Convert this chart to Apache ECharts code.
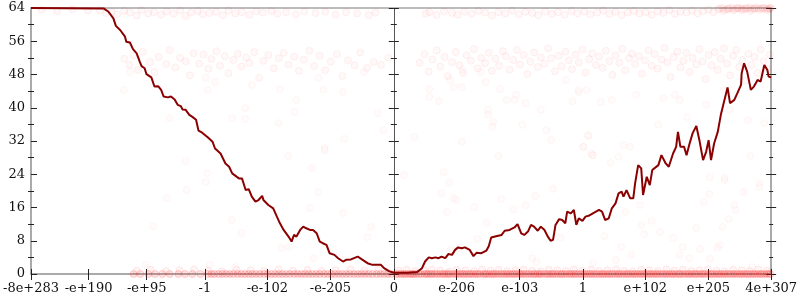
<!DOCTYPE html>
<html><head><meta charset="utf-8">
<script src="https://cdn.jsdelivr.net/npm/echarts@6/dist/echarts.min.js"></script>
<style>html,body{margin:0;padding:0;background:#fff}#c{width:800px;height:300px}</style>
</head><body><div id="c"></div>
<script>
// x positions are in signed "decades" from zero (float ordering scale)
const xTickValues = [-592.5,-498.6,-403.6,-308.6,-206.6,-103.6,0,102.6,205.6,308.6,410.6,513.6,616.2];
const xTickLabels = ['-8e+283','-e+190','-e+95','-1','-e-102','-e-205','0','e-206','e-103','1','e+102','e+205','4e+307'];
const yMajorTicks = [0,8,16,24,32,40,48,56,64];
const yMinorTicks = [4,12,20,28,36,44,52,60];

const lineData = [
[-592.5,64],[-474,63.9],[-466,63.1],[-458,61.5],[-454,59.7],[-447,58.7],[-439,57.1],[-437,55.9],[-431,55.7],[-426,54.1],[-420,53.1],[-415,51.1],[-412,50.0],[-407,49.5],[-404,48.1],[-396,47.3],[-391,45.1],[-388,44.7],[-385,45.2],[-380,44.3],[-376,42.7],[-369,42.5],[-364,42.7],[-358,42.0],[-353,40.7],[-348,40.4],[-345,39.6],[-340,39.5],[-334,38.3],[-329,37.8],[-323,37.1],[-319,34.5],[-313,34.0],[-304,32.9],[-296,31.8],[-292,30.2],[-283,29.0],[-275,26.6],[-269,25.8],[-264,24.2],[-253,23.0],[-248,23.0],[-242,20.2],[-237,20.4],[-232,18.6],[-226,17.4],[-221,17.8],[-215,18.8],[-213,17.8],[-210,17.8],[-205,16.6],[-197,15.8],[-191,13.8],[-186,12.2],[-180,10.6],[-172,9.0],[-167,7.8],[-163,9.4],[-159,9.0],[-153,10.6],[-148,11.4],[-143,11.0],[-137,10.6],[-132,10.6],[-126,9.8],[-121,7.8],[-116,7.4],[-110,7.0],[-105,5.0],[-97,4.6],[-91,3.8],[-83,3.0],[-78,3.4],[-70,3.5],[-59,4.2],[-51,3.4],[-43,2.6],[-35,2.2],[-21,2.2],[-16,1.4],[-8,0.7],[0,0.3],
[6,0.3],[22,0.3],[38,0.5],[46,1.4],[51,3.0],[57,4.0],[62,3.8],[68,4.0],[73,3.8],[78,4.2],[84,3.8],[89,4.8],[95,4.6],[100,5.8],[105,6.4],[111,6.2],[116,6.4],[124,5.8],[130,4.3],[135,5.1],[143,5.0],[151,5.6],[155,6.7],[159,8.8],[167,9.1],[176,9.4],[181,10.4],[189,10.6],[197,11.2],[202,12.0],[208,9.8],[213,9.4],[219,10.2],[224,11.8],[229,11.4],[235,10.4],[240,11.4],[246,10.6],[251,9.1],[256,8.0],[260,8.2],[264,11.8],[270,13.2],[275,13.0],[280,12.2],[283,15.0],[289,14.6],[294,15.4],[298,11.8],[302,13.4],[308,12.8],[313,13.8],[318,14.0],[335,15.4],[340,15.0],[345,13.0],[351,13.4],[356,15.8],[362,17.0],[367,19.4],[372,19.8],[375,18.6],[380,20.2],[386,18.2],[391,18.2],[394,21.8],[399,26.2],[404,25.4],[407,19.0],[413,23.4],[418,21.4],[422,25.0],[432,26.2],[437,28.6],[440,29.0],[444,26.6],[449,25.8],[456,29.0],[461,30.6],[464,34.2],[468,30.6],[474,30.6],[478,28.6],[483,31.4],[488,33.9],[494,35.6],[499,32.2],[505,27.4],[510,29.4],[514,32.2],[518,27.4],[523,31.4],[529,34.2],[534,38.3],[540,41.9],[545,44.9],[549,41.1],[556,41.9],[561,43.5],[567,45.5],[568,48.3],[572,50.7],[577,48.7],[583,44.3],[588,45.1],[594,46.7],[599,46.3],[605,50.3],[610,49.1],[612,47.5],[616.2,47.3]
];

const topBand = [
[-575,63.6],[-550,63.3],[-525,63.7],[-500,63.4],
[-480,63.4],[-470,62.8],[-461,63.1],[-452,62.5],[-440,63.3],[-431,62.9],[-420,62.2],[-412,63.5],[-401,62.7],[-392,63.0],[-380,62.4],[-371,63.2],[-360,62.6],[-349,63.4],[-340,62.1],[-331,62.9],[-320,63.3],[-312,62.5],[-301,62.8],[-290,63.1],[-279,62.3],[-270,63.4],[-259,62.7],[-248,63.0],[-236,62.4],[-225,63.2],[-214,62.9],[-200,63.3],[-190,62.6],[-176,63.0],[-160,62.5],[-146,63.2],[-128,62.8],[-112,63.1],[-95,62.4],[-78,63.0],[-60,62.7],[-41,62.3],[-30,62.9],
[52,62.6],[58,63.0],[70,62.3],[82,63.2],[95,62.8],[104,62.4],[115,63.1],[127,62.6],[138,63.3],[149,62.9],[160,62.2],[171,63.0],[182,62.7],[193,63.4],[204,62.5],[215,63.1],[226,62.8],[236,62.3],[247,63.2],[258,62.6],[268,63.0],[279,62.4],[290,63.3],[300,62.7],[311,63.1],[321,62.5],[332,62.9],[342,63.4],[352,62.6],[362,63.1],[372,62.3],[382,62.9],[392,63.3],[401,62.7],[411,63.0],[421,62.4],[431,63.2],[440,62.8],[450,63.5],[459,62.6],[468,63.1],[478,62.9],[487,63.4],[496,62.7],[505,63.2],[514,63.6],[522,63.0],[530,63.7],[538,63.3],[546,63.8],[554,63.4],[561,63.9],[568,63.5],[575,63.8],[582,63.3],[589,63.9],[596,63.6],[603,63.9],[609,63.5],[614,63.8],
[533,63.9],[541,63.6],[549,64],[557,63.7],[565,64],[571,63.6],[579,64],[585,63.7],[592,64],[599,63.8],[606,64],[612,63.7],[616,64],
[537,64],[545,63.8],[553,64],[561,64],[569,63.9],[575,64],[582,64],[588,63.9],[595,64],[602,64],[609,63.9],[615,64]
];

const midBand = [
[-440,51.8],[-432,50.3],[-425,52.6],[-418,49.1],[-410,53.5],[-398,51.0],[-391,48.6],[-384,52.2],[-372,50.5],[-366,53.9],[-357,49.7],[-349,52.0],[-340,51.2],[-333,47.8],[-327,53.1],[-318,50.6],[-311,52.8],[-303,49.4],[-298,51.7],[-290,53.6],[-284,50.1],[-276,52.4],[-270,48.3],[-262,51.5],[-255,53.0],[-249,49.9],[-241,52.1],[-236,50.8],[-228,53.4],[-220,47.2],[-213,51.3],[-205,52.7],[-196,49.5],[-188,51.9],[-180,53.2],[-172,50.4],[-163,52.3],[-155,48.9],[-147,51.6],[-138,53.7],[-130,50.0],[-121,52.5],[-112,49.0],[-103,51.1],[-93,52.9],[-84,47.6],[-75,51.4],[-64,50.2],[-55,53.3],[-44,49.6],[-33,51.0],[-21,50.3],[-9,52.1],
[42,50.8],[50,52.9],[57,48.7],[63,51.6],[70,53.8],[76,49.9],[83,52.2],[88,47.6],[95,51.0],[101,53.4],[107,50.2],[113,48.4],[119,52.6],[126,51.3],[131,54.1],[137,49.5],[143,52.0],[149,50.7],[155,53.2],[160,48.9],[166,51.8],[172,50.1],[178,53.6],[183,52.4],[189,49.2],[195,51.5],[201,53.9],[206,50.4],[212,52.7],[218,48.1],[223,51.1],[229,53.3],[235,49.8],[240,52.1],[246,50.6],[252,54.3],[257,51.9],[263,48.8],[269,52.5],[274,50.0],[280,53.5],[286,51.4],[291,49.3],[297,52.8],[302,50.9],[308,54.0],[313,48.5],[319,51.7],[324,53.1],[330,50.3],[335,52.3],[341,49.6],[346,53.7],[352,51.2],[357,47.9],[362,52.6],[368,50.8],[373,54.2],[378,49.0],[384,51.9],[389,53.0],[394,50.5],[400,52.4],[405,48.2],[410,51.4],[416,53.8],[421,50.1],[426,52.9],[431,49.4],[437,51.6],[442,54.4],[447,50.9],[452,47.4],[457,52.2],[463,53.5],[468,49.7],[473,51.3],[478,53.2],[483,48.6],[488,52.0],[494,50.4],[499,54.1],[504,51.1],[509,46.9],[514,52.7],[519,50.2],[524,53.4],[529,49.1],[534,51.8],[539,54.3],[544,50.6],[549,47.8],[554,52.5],[559,53.9],[564,49.8],[569,51.5],[574,46.5],[579,53.0],[584,50.3],[589,52.2],[594,48.4],[599,54.0],[604,51.2],[609,49.5],[614,52.8]
];

const scattered = [
[-441,44.3],[-366,37.5],[-431,48.6],[-307,47.2],[-292,46.2],[-232,45.5],[-186,44.5],[-159,41.9],[-243,39.9],[-264,37.5],[-243,37.3],[-162,39.0],[-188,36.3],[-115,44.3],[-83,43.8],[-49,48.6],[-26,38.7],[-17,34.6],[-81,32.5],[-113,30.3],[-304,44.3],[-123,47.2],
[-172,28.4],[-305,24.3],[-307,22.1],[-265,13.0],[-249,9.9],[-184,6.3],[-172,6.5],[-131,3.8],[-123,19.7],[-137,15.9],[-83,14.7],[-37,11.3],[-43,8.9],[-301,2.2],[-259,1.7],[-134,25.5],[-113,29.8],[-340,27.2],[-338,20.2],[-371,18.3],[-393,11.5],[-406,2.2],
[58,44.5],[58,42.6],[74,41.6],[92,46.7],[98,45.0],[111,45.0],[112,49.1],[142,48.6],[150,46.2],[154,39.5],[162,36.6],[161,35.4],[173,44.5],[184,41.9],[197,41.9],[200,43.1],[215,41.1],[210,35.9],[240,39.5],[249,34.6],[257,32.2],[281,46.7],[292,41.6],[302,43.8],[317,33.2],[310,30.6],[34,33.0],[111,31.8],[154,38.3],
[16,23.8],[81,24.5],[90,21.9],[77,19.5],[97,18.3],[102,17.8],[87,14.9],[131,16.1],[152,12.3],[171,28.4],[175,18.0],[195,15.6],[215,16.6],[231,18.8],[260,20.5],[272,8.7],[226,3.8],[233,2.9],[136,8.4],[107,6.3],[92,5.8],[325,28.6],[325,2.6],
[367,28.2],[354,26.7],[582,28.4],[597,21.9],[571,19.7],[556,16.6],[558,15.4],[540,22.6],[516,23.3],[515,19.2],[506,17.3],[494,11.1],[472,6.5],[467,4.6],[483,3.8],[500,6.0],[516,3.6],[528,6.3],[532,7.0],[537,11.3],[547,13.2],[456,8.7],[435,10.1],[421,12.8],[409,9.6],[404,11.8],[388,4.6],[371,6.5],[362,3.4],[344,9.1],[378,14.9],[402,16.6],[585,1.7],
[302,44.3],[315,44.3],[318,33.4],[309,30.6],[324,28.6],[338,41.4],[356,41.9],[375,31.0],[386,30.6],[396,43.1],[432,35.9],[440,42.3],[459,43.1],[467,41.9],[479,37.8],[510,40.7],[539,44.3],[549,39.5],[560,43.1],[578,37.0],[605,36.3],[597,20.9],[540,23.1],[322,29.1]
];

const bottomZero = [
[-425,0],[-414,0],[-401,0],[-390,0],[-378,0],[-366,0],[-352,0],[-341,0],[-329,0],[-316,0],[-304,0],[-293,0],[-280,0],[-268,0],[-255,0],[-243,0],[-231,0],[-219,0],[-206,0],[-194,0],[-182,0],[-170,0],[-157,0],[-145,0],[-133,0],[-121,0],[-108,0],[-96,0],[-84,0],[-72,0],[-59,0],[-47,0],[-35,0],[-22,0],[-10,0],
[-298,0],[-286,0],[-274,0],[-262,0],[-249,0],[-237,0],[-225,0],[-212,0],[-200,0],[-188,0],[-176,0],[-163,0],[-151,0],[-139,0],[-127,0],[-114,0],[-102,0],[-90,0],[-78,0],[-65,0],[-53,0],[-41,0],[-28,0],[-16,0],[-4,0],
[4,0],[12,0],[19,0],[27,0],[33,0],[41,0],[50,0],[56,0],[63,0],[71,0],[79,0],[86,0],[92,0],[101,0],[108,0],[115,0],[123,0],[130,0],[137,0],[146,0],[152,0],[160,0],[167,0],[175,0],[183,0],[190,0],[197,0],[205,0],[212,0],[220,0],[228,0],[235,0],[241,0],[250,0],[257,0],[264,0],[272,0],[279,0],[287,0],[294,0],[301,0],[309,0],[316,0],[323,0],[331,0],[339,0],[346,0],[353,0],[361,0],[368,0],[376,0],[383,0],[391,0],[398,0],[405,0],[413,0],[420,0],[428,0],[435,0],[443,0],[450,0],[457,0],[465,0],[472,0],[480,0],[487,0],[494,0],[502,0],[509,0],[517,0],[524,0],[531,0],[539,0],[546,0],[554,0],[561,0],[568,0],[576,0],[583,0],[590,0],[598,0],[605,0],[612,0],
[8,0],[16,0],[23,0],[30,0],[37,0],[45,0],[53,0],[60,0],[67,0],[75,0],[82,0],[89,0],[97,0],[104,0],[112,0],[119,0],[126,0],[134,0],[141,0],[149,0],[156,0],[163,0],[171,0],[179,0],[186,0],[194,0],[201,0],[208,0],[216,0],[224,0],[231,0],[238,0],[246,0],[253,0],[260,0],[268,0],[275,0],[283,0],[290,0],[297,0],[305,0],[312,0],[320,0],[327,0],[335,0],[342,0],[350,0],[357,0],[365,0],[372,0],[380,0],[387,0],[394,0],[402,0],[409,0],[417,0],[424,0],[431,0],[439,0],[446,0],[454,0],[461,0],[468,0],[476,0],[483,0],[491,0],[498,0],[505,0],[513,0],[520,0],[528,0],[535,0],[542,0],[550,0],[557,0],[565,0],[572,0],[579,0],[587,0],[594,0],[601,0],[609,0],[615,0]
];
const bottomLow = [
[-420,0.8],[-397,1.0],[-372,0.7],[-350,0.9],[-326,1.1],[-303,0.8],[-281,0.6],[-257,1.0],[-234,0.9],[-212,0.7],[-188,1.1],[-165,0.8],[-141,1.0],[-118,0.7],[-95,0.9],[-71,1.1],[-48,0.8],[-25,1.0],
[8,0.8],[21,1.0],[35,0.7],[49,0.9],[62,1.1],[76,0.8],[90,0.6],[103,1.0],[117,0.9],[131,0.7],[144,1.1],[158,0.8],[171,1.0],[185,0.7],[199,0.9],[212,1.1],[226,0.8],[240,0.6],[253,1.0],[267,0.9],[281,0.7],[294,1.1],[308,0.8],[322,1.0],[335,0.7],[349,0.9],[363,1.1],[376,0.8],[390,0.6],[404,1.0],[417,0.9],[431,0.7],[445,1.1],[458,0.8],[472,1.0],[486,0.7],[499,0.9],[513,1.1],[527,0.8],[540,0.6],[554,1.0],[568,0.9],[581,0.7],[595,1.1],[609,0.8]
];

const FONT = 'DejaVu Serif';
const X_MIN = xTickValues[0], X_MAX = xTickValues[xTickValues.length - 1];
const labelOf = v => { const i = xTickValues.indexOf(v); return i >= 0 ? xTickLabels[i] : ''; };

function xAx(extra) {
  return Object.assign({
    type: 'value', min: X_MIN, max: X_MAX, position: 'bottom',
    splitLine: { show: false }, axisLabel: { show: false }, axisTick: { show: false },
    axisLine: { show: false }
  }, extra);
}
function yAx(extra) {
  return Object.assign({
    type: 'value', min: 0, max: 64, interval: 8, position: 'left',
    splitLine: { show: false }, axisLabel: { show: false }, axisTick: { show: false },
    axisLine: { show: false, onZero: false }
  }, extra);
}
const tickStyle = { color: '#222', width: 1 };

const chart = echarts.init(document.getElementById('c'), null, { renderer: 'canvas' });
chart.setOption({
  animation: false,
  grid: { left: 27, right: 26, top: 8, bottom: 26, containLabel: false },
  xAxis: [
    xAx({
      axisLine: { show: true, onZero: false, lineStyle: { color: '#aaa', width: 2 } },
      axisTick: { show: true, length: 6, customValues: xTickValues, lineStyle: tickStyle },
      axisLabel: { show: true, customValues: xTickValues, formatter: labelOf, margin: 8,
        fontFamily: FONT, fontSize: 13, color: '#111' }
    }),
    xAx({ axisTick: { show: true, inside: true, length: 5, customValues: xTickValues, lineStyle: tickStyle } }),
    xAx({ position: 'top', axisLine: { show: true, onZero: false, lineStyle: { color: '#bbb', width: 2 } } })
  ],
  yAxis: [
    yAx({
      axisLine: { show: true, onZero: false, lineStyle: { color: '#aaa', width: 2 } },
      axisTick: { show: true, inside: true, length: 6, lineStyle: tickStyle },
      axisLabel: { show: true, margin: 6, fontFamily: FONT, fontSize: 13, color: '#111' }
    }),
    yAx({ axisTick: { show: true, inside: false, length: 3, customValues: yMinorTicks, lineStyle: tickStyle } }),
    yAx({ axisTick: { show: true, inside: true, length: 3, customValues: yMinorTicks, lineStyle: tickStyle } }),
    yAx({
      axisLine: { show: true, onZero: true, onZeroAxisIndex: 0, lineStyle: { color: '#555', width: 1 } },
      axisTick: { show: true, inside: false, length: 5, lineStyle: tickStyle }
    }),
    yAx({ axisLine: { show: false, onZero: true, onZeroAxisIndex: 0 }, axisTick: { show: true, inside: true, length: 5, lineStyle: tickStyle } }),
    yAx({ axisLine: { show: false, onZero: true, onZeroAxisIndex: 0 }, axisTick: { show: true, inside: false, length: 3, customValues: yMinorTicks, lineStyle: tickStyle } }),
    yAx({ axisLine: { show: false, onZero: true, onZeroAxisIndex: 0 }, axisTick: { show: true, inside: true, length: 3, customValues: yMinorTicks, lineStyle: tickStyle } }),
    yAx({
      position: 'right',
      axisLine: { show: true, onZero: false, lineStyle: { color: '#aaa', width: 2 } },
      axisTick: { show: true, inside: false, length: 5, lineStyle: tickStyle }
    }),
    yAx({ position: 'right', axisTick: { show: true, inside: true, length: 5, lineStyle: tickStyle } }),
    yAx({ position: 'right', axisTick: { show: true, inside: false, length: 2, customValues: yMinorTicks, lineStyle: tickStyle } }),
    yAx({ position: 'right', axisTick: { show: true, inside: true, length: 2, customValues: yMinorTicks, lineStyle: tickStyle } })
  ],
  series: [
    { type: 'scatter', data: topBand, symbolSize: 7, silent: true, clip: false,
      itemStyle: { color: 'rgba(255,0,0,0.035)', borderColor: 'rgba(255,0,0,0.08)', borderWidth: 1 } },
    { type: 'scatter', data: midBand, symbolSize: 7, silent: true,
      itemStyle: { color: 'rgba(255,0,0,0.035)', borderColor: 'rgba(255,0,0,0.075)', borderWidth: 1 } },
    { type: 'scatter', data: scattered, symbolSize: 7, silent: true,
      itemStyle: { color: 'rgba(255,0,0,0.02)', borderColor: 'rgba(255,0,0,0.05)', borderWidth: 1 } },
    { type: 'scatter', data: bottomLow, symbolSize: 7, silent: true, clip: false,
      itemStyle: { color: 'rgba(255,0,0,0.05)', borderColor: 'rgba(255,0,0,0.1)', borderWidth: 1 } },
    { type: 'scatter', data: bottomZero, symbolSize: 7, silent: true, clip: false, z: 3,
      itemStyle: { color: 'rgba(255,0,0,0.14)', borderColor: 'rgba(255,0,0,0.2)', borderWidth: 1 } },
    { type: 'line', data: lineData, showSymbol: false, symbol: 'none', silent: true, z: 5,
      lineStyle: { color: '#8b0000', width: 2 } }
  ]
});
</script></body></html>
